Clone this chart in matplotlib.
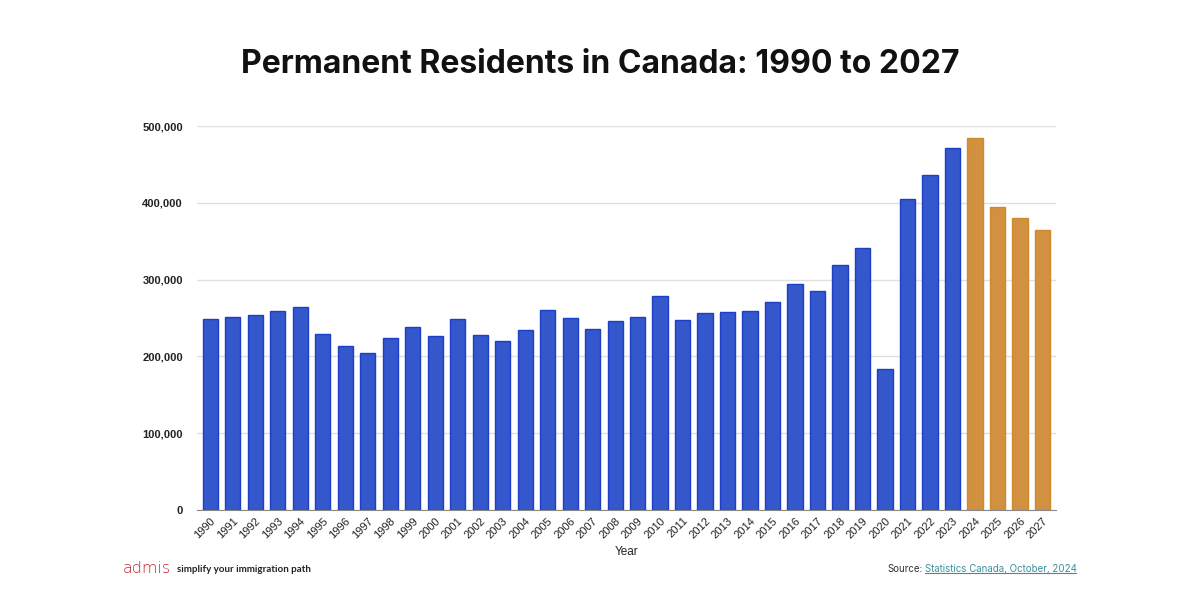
import matplotlib
matplotlib.use('Agg')
import matplotlib.pyplot as plt
import numpy as np
from matplotlib.ticker import FuncFormatter
from matplotlib.lines import Line2D

years = list(range(1990, 2028))
residents = [249000, 251000, 254000, 259000, 264000, 229000, 214000, 204000, 224000, 238000,
             227000, 249000, 228000, 220000, 234000, 260000, 250000, 236000, 246000, 251000,
             279000, 247000, 257000, 258000, 259000, 271000, 294000, 285000, 319000, 341000,
             184000, 405000, 436000, 471000, 485000, 395000, 380000, 365000]
first_target = 2024  # planned levels from here on

blue, blue_edge = '#3457cc', '#1c3fc8'
orange, orange_edge = '#d29140', '#cf8a2e'

fig = plt.figure(figsize=(12, 6), dpi=100)
ax = fig.add_axes([0.164, 0.15, 0.716, 0.64])

x = np.arange(len(years))
face = [orange if y >= first_target else blue for y in years]
edge = [orange_edge if y >= first_target else blue_edge for y in years]
ax.bar(x, residents, width=0.68, color=face, edgecolor=edge, linewidth=1.0, zorder=3)

ax.set_xlim(-0.6, len(years) - 0.4)
ax.set_ylim(0, 500000)
ax.set_yticks([0, 100000, 200000, 300000, 400000, 500000])
ax.yaxis.set_major_formatter(FuncFormatter(lambda v, p: f'{int(v):,}'))
ax.tick_params(axis='y', length=0, labelsize=8, pad=10, labelcolor='#222222')
ax.set_xticks(x)
ax.set_xticklabels([str(y) for y in years], rotation=45, ha='right', rotation_mode='anchor')
ax.tick_params(axis='x', length=0, labelsize=8, pad=4, labelcolor='#222222')
for lab in ax.get_xticklabels() + ax.get_yticklabels():
    lab.set_family('Liberation Sans')
for lab in ax.get_yticklabels():
    lab.set_fontweight('bold')

ax.grid(axis='y', color='#e0e0e0', linewidth=1, zorder=0)
for s in ['top', 'right', 'left']:
    ax.spines[s].set_visible(False)
ax.spines['bottom'].set_color('#888888')
ax.spines['bottom'].set_zorder(4)
ax.set_xlabel('Year', fontsize=8.5, family='Liberation Sans', color='#222222', labelpad=4)

fig.text(0.5, 0.892, 'Permanent Residents in Canada: 1990 to 2027', ha='center', va='center',
         fontsize=23, fontweight='bold', family='Inter', color='#111111')

# footer
fig.text(0.102, 0.052, 'admis', fontsize=11.5, color='#c4262e', family='DejaVu Sans',
         fontweight='light', va='center')
fig.text(0.1475, 0.050, 'simplify your immigration path', fontsize=7, color='#222222',
         family='Lato', fontweight='bold', va='center')
fig.text(0.7685, 0.052, 'Source:', fontsize=7, color='#333333', family='Inter', va='center', ha='right')
link = fig.text(0.7705, 0.052, 'Statistics Canada, October, 2024', fontsize=7, color='#3b8fa0',
                family='Inter', va='center', ha='left')
fig.canvas.draw()
bb = link.get_window_extent().transformed(fig.transFigure.inverted())
fig.add_artist(Line2D([bb.x0, bb.x1], [bb.y0 + 0.001, bb.y0 + 0.001], color='#3b8fa0', linewidth=0.8))

fig.savefig('out.png', dpi=100, facecolor='white')
